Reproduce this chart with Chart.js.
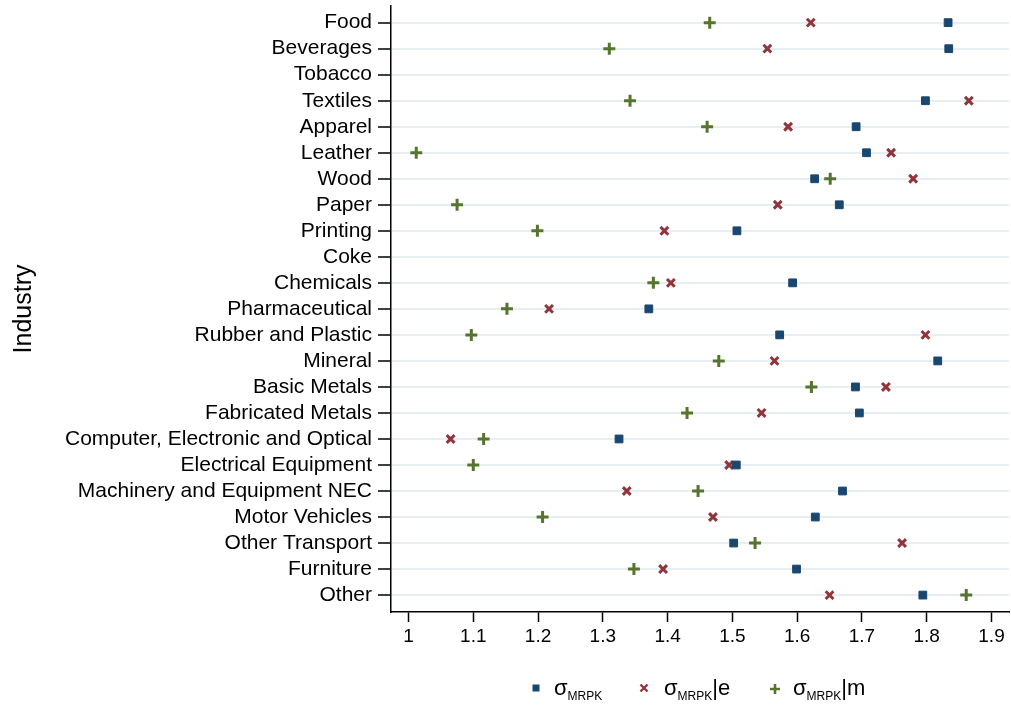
<!DOCTYPE html>
<html>
<head>
<meta charset="utf-8">
<script src="https://cdn.jsdelivr.net/npm/chart.js@4.4.1/dist/chart.umd.min.js"></script>
<style>
  html, body { margin: 0; padding: 0; background: #ffffff; }
  #wrap { position: relative; width: 1011px; height: 706px; overflow: hidden; font-family: "Liberation Sans", Arial, sans-serif; }
  #c { position: absolute; left: 0; top: 0; }
  .lg { position: absolute; top: 677px; height: 24px; font-size: 22px; line-height: 22px; color: #000; white-space: nowrap; }
  .lg sub { font-size: 12px; vertical-align: -5px; line-height: 0; }
  .mk { position: absolute; }
</style>
</head>
<body>
<div id="wrap">
  <canvas id="c" width="1011" height="706"></canvas>
  <svg class="mk" style="left:531px;top:683px" width="10" height="10"><rect x="1.5" y="1.5" width="7" height="7" fill="#1a476f"/></svg>
  <div class="lg" style="left:554px">σ<sub>MRPK</sub></div>
  <svg class="mk" style="left:639px;top:683px" width="10" height="10"><path d="M1.5 1.5 L8.5 8.5 M8.5 1.5 L1.5 8.5" stroke="#90353b" stroke-width="2.4"/></svg>
  <div class="lg" style="left:664px">σ<sub>MRPK</sub>|e</div>
  <svg class="mk" style="left:769px;top:683px" width="12" height="12"><path d="M6 1 L6 11 M1 6 L11 6" stroke="#55752f" stroke-width="2.6"/></svg>
  <div class="lg" style="left:793px">σ<sub>MRPK</sub>|m</div>
</div>
<script>
const categories = ["Food", "Beverages", "Tobacco", "Textiles", "Apparel", "Leather", "Wood", "Paper",
  "Printing", "Coke", "Chemicals", "Pharmaceutical", "Rubber and Plastic", "Mineral", "Basic Metals",
  "Fabricated Metals", "Computer, Electronic and Optical", "Electrical Equipment",
  "Machinery and Equipment NEC", "Motor Vehicles", "Other Transport", "Furniture", "Other"];

const sigmaMRPK = [1.833, 1.834, null, 1.798, 1.691, 1.707, 1.627, 1.665,
  1.507, null, 1.593, 1.371, 1.573, 1.817, 1.690,
  1.696, 1.325, 1.506,
  1.670, 1.628, 1.502, 1.599, 1.794];

const sigmaMRPKe = [1.621, 1.554, null, 1.865, 1.586, 1.745, 1.779, 1.570,
  1.395, null, 1.405, 1.217, 1.798, 1.565, 1.737,
  1.545, 1.065, 1.495,
  1.337, 1.470, 1.762, 1.393, 1.650];

const sigmaMRPKm = [1.465, 1.310, null, 1.342, 1.461, 1.012, 1.651, 1.075,
  1.199, null, 1.378, 1.152, 1.097, 1.479, 1.622,
  1.430, 1.116, 1.100,
  1.447, 1.207, 1.535, 1.348, 1.861];

const xTicks = [1, 1.1, 1.2, 1.3, 1.4, 1.5, 1.6, 1.7, 1.8, 1.9];

const toPoints = (vals) => vals.map((v, i) => (v === null ? null : { x: v, y: i })).filter(p => p !== null);

const BLUE = '#1a476f', RED = '#90353b', GREEN = '#55752f';
const FONT = '"Liberation Sans", Arial, sans-serif';

new Chart(document.getElementById('c'), {
  type: 'scatter',
  data: {
    datasets: [
      { label: 'σMRPK', data: toPoints(sigmaMRPK), pointStyle: 'rect', pointRadius: 5.5, pointHoverRadius: 5.5,
        backgroundColor: BLUE, borderColor: BLUE, borderWidth: 1 },
      { label: 'σMRPK|e', data: toPoints(sigmaMRPKe), pointStyle: 'crossRot', pointRadius: 5.5, pointHoverRadius: 5.5,
        backgroundColor: RED, borderColor: RED, borderWidth: 3 },
      { label: 'σMRPK|m', data: toPoints(sigmaMRPKm), pointStyle: 'cross', pointRadius: 6, pointHoverRadius: 6,
        backgroundColor: GREEN, borderColor: GREEN, borderWidth: 3 }
    ]
  },
  options: {
    responsive: false,
    animation: false,
    devicePixelRatio: 1,
    layout: { autoPadding: false, padding: { top: 6, right: 2, bottom: 49, left: 0 } },
    plugins: { legend: { display: false }, tooltip: { enabled: false } },
    scales: {
      x: {
        type: 'linear',
        min: 0.973, max: 1.927,
        afterBuildTicks: (s) => { s.ticks = xTicks.map(v => ({ value: v })); },
        afterFit: (s) => { s.height = 45; s.paddingLeft = 0; s.paddingRight = 0; },
        ticks: { color: '#000', font: { family: FONT, size: 19 }, padding: 3, maxRotation: 0,
          callback: (v) => String(+Number(v).toFixed(1)) },
        grid: { drawOnChartArea: false, drawTicks: true, tickLength: 10, tickColor: '#000', tickWidth: 1.5 },
        border: { display: true, color: '#000', width: 1.5 }
      },
      y: {
        type: 'linear',
        reverse: true,
        min: -0.64, max: 22.65,
        afterBuildTicks: (s) => { s.ticks = categories.map((_, i) => ({ value: i })); },
        afterFit: (s) => { s.width = 391; s.paddingTop = 0; s.paddingBottom = 0; },
        ticks: { color: '#000', font: { family: FONT, size: 21 }, padding: 6, autoSkip: false,
          callback: (v) => categories[v] ?? '' },
        grid: { color: '#e8eff2', lineWidth: 2, drawTicks: true, tickLength: 13, tickColor: '#000', tickWidth: 1.5 },
        border: { display: true, color: '#000', width: 1.5 },
        title: { display: true, text: 'Industry', color: '#000', font: { family: FONT, size: 25 }, padding: { top: 9, bottom: 0 } }
      }
    }
  }
});
</script>
</body>
</html>
